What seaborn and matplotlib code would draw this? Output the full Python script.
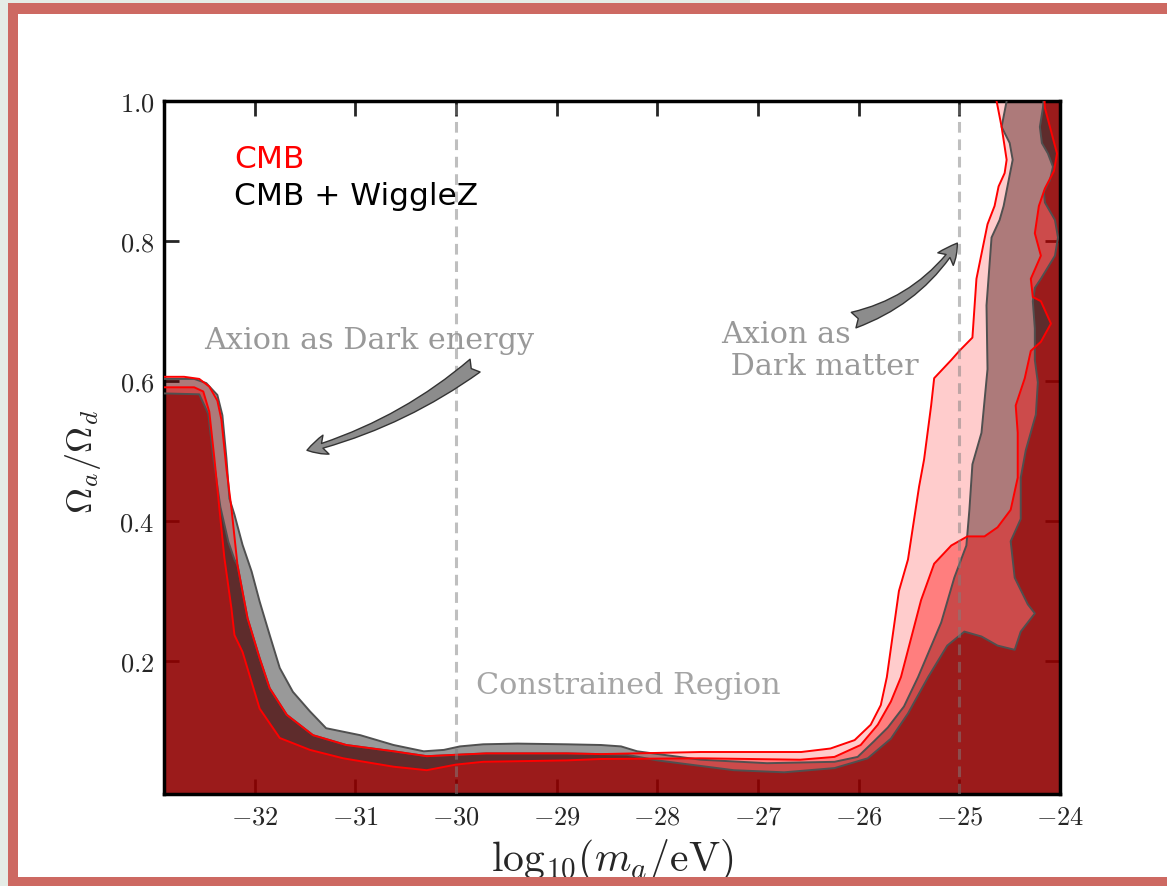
import numpy as np
import matplotlib
matplotlib.use("Agg")
import matplotlib.pyplot as plt
import seaborn as sns
from matplotlib.patches import Rectangle
from matplotlib.ticker import FuncFormatter

# boundary curves (x = log10(m_a/eV), y = Omega_a/Omega_d)
cmb_outer_x = [-33.1, -32.7, -32.55, -32.45, -32.37, -32.33, -32.28, -32.23, -32.17, -32.07,
               -31.95, -31.85, -31.68, -31.42, -31.09, -30.62, -30.29, -30.0, -29.7, -28.9,
               -28.56, -27.57, -26.57, -26.28, -26.04, -25.88, -25.78, -25.72, -25.60, -25.51,
               -25.40, -25.35, -25.28, -25.25, -25.08, -25.0, -24.87, -24.83, -24.72, -24.65,
               -24.61, -24.55, -24.53, -24.58, -24.63, -24.64]
cmb_outer_y = [0.606, 0.606, 0.603, 0.592, 0.572, 0.545, 0.475, 0.418, 0.337, 0.261,
               0.204, 0.161, 0.123, 0.094, 0.080, 0.071, 0.064, 0.066, 0.068, 0.068,
               0.067, 0.070, 0.070, 0.075, 0.087, 0.109, 0.137, 0.177, 0.300, 0.345,
               0.449, 0.488, 0.565, 0.604, 0.630, 0.643, 0.662, 0.746, 0.824, 0.850,
               0.878, 0.897, 0.916, 0.963, 1.0, 1.02]

cmb_inner_x = [-33.1, -32.6, -32.51, -32.45, -32.40, -32.35, -32.30, -32.23, -32.20, -32.12,
               -31.95, -31.75, -31.45, -31.12, -30.62, -30.29, -30.0, -29.73, -28.9, -28.56,
               -27.57, -26.58, -26.24, -25.98, -25.81, -25.68, -25.58, -25.38, -25.25, -25.08,
               -24.92, -24.75, -24.62, -24.49, -24.42, -24.42, -24.44, -24.35, -24.29, -24.19,
               -24.09, -24.19, -24.27, -24.29, -24.19, -24.25, -24.21, -24.15, -24.06, -24.03,
               -24.10, -24.15, -24.16]
cmb_inner_y = [0.591, 0.591, 0.585, 0.556, 0.490, 0.418, 0.347, 0.275, 0.237, 0.213,
               0.132, 0.090, 0.073, 0.061, 0.049, 0.044, 0.052, 0.056, 0.058, 0.060,
               0.061, 0.059, 0.063, 0.080, 0.109, 0.142, 0.177, 0.287, 0.339, 0.365,
               0.378, 0.378, 0.391, 0.416, 0.462, 0.526, 0.565, 0.604, 0.643, 0.656,
               0.682, 0.714, 0.720, 0.746, 0.779, 0.811, 0.850, 0.875, 0.900, 0.925,
               0.963, 0.990, 1.02]

wigglez_outer_x = [-33.1, -32.6, -32.48, -32.37, -32.32, -32.28, -32.25, -32.20, -32.12, -32.03,
                   -31.95, -31.85, -31.75, -31.62, -31.45, -31.29, -30.95, -30.62, -30.32, -30.12,
                   -29.96, -29.73, -29.39, -28.9, -28.56, -28.36, -28.2, -27.57, -26.91, -26.24,
                   -26.01, -25.85, -25.71, -25.55, -25.41, -25.18, -25.05, -24.93, -24.90, -24.87,
                   -24.78, -24.72, -24.73, -24.68, -24.60, -24.56, -24.47, -24.50, -24.58, -24.53,
                   -24.52]
wigglez_outer_y = [0.603, 0.603, 0.597, 0.580, 0.551, 0.490, 0.432, 0.409, 0.366, 0.328,
                   0.285, 0.237, 0.190, 0.156, 0.128, 0.104, 0.094, 0.080, 0.071, 0.073,
                   0.078, 0.081, 0.082, 0.081, 0.080, 0.078, 0.071, 0.059, 0.054, 0.056,
                   0.063, 0.085, 0.105, 0.135, 0.177, 0.255, 0.319, 0.365, 0.416, 0.481,
                   0.526, 0.617, 0.708, 0.805, 0.830, 0.850, 0.916, 0.940, 0.963, 1.0,
                   1.02]

wigglez_inner_x = [-33.1, -32.55, -32.46, -32.41, -32.34, -32.26, -32.20, -32.17, -32.07, -31.95,
                   -31.85, -31.68, -31.42, -31.09, -30.62, -30.29, -30.0, -29.7, -28.9, -28.56,
                   -28.3, -28.0, -27.24, -26.74, -26.24, -25.91, -25.68, -25.51, -25.31, -25.12,
                   -24.95, -24.78, -24.62, -24.45, -24.39, -24.25, -24.32, -24.45, -24.49, -24.39,
                   -24.39, -24.34, -24.24, -24.22, -24.25, -24.25, -24.27, -24.25, -24.19, -24.05,
                   -24.02, -24.05, -24.15, -24.16, -24.10, -24.07, -24.12, -24.18, -24.20, -24.17,
                   -24.15]
wigglez_inner_y = [0.583, 0.581, 0.553, 0.490, 0.420, 0.370, 0.345, 0.337, 0.261, 0.204,
                   0.161, 0.123, 0.094, 0.080, 0.071, 0.064, 0.066, 0.068, 0.068, 0.067,
                   0.066, 0.058, 0.044, 0.041, 0.047, 0.061, 0.089, 0.125, 0.177, 0.222,
                   0.242, 0.235, 0.222, 0.216, 0.242, 0.268, 0.281, 0.319, 0.371, 0.403,
                   0.462, 0.501, 0.552, 0.598, 0.630, 0.675, 0.714, 0.733, 0.746, 0.779,
                   0.805, 0.830, 0.855, 0.870, 0.887, 0.906, 0.925, 0.940, 0.963, 0.990,
                   1.02]

x_ticks = [-32, -31, -30, -29, -28, -27, -26, -25, -24]
y_ticks = [0.2, 0.4, 0.6, 0.8, 1.0]
marker_lines = [-30, -25]

W, H = 1167, 887
sns.set_style("ticks")
plt.rcParams['mathtext.fontset'] = 'cm'
plt.rcParams['font.family'] = ['DejaVu Sans']

fig = plt.figure(figsize=(W / 100, H / 100), dpi=100, facecolor='white')
ax = fig.add_axes([164 / W, 1 - 795 / H, (1060 - 164) / W, (795 - 102) / H])


def under_curve(xs, ys):
    # polygon of the area below / right of a boundary that ends at the top
    px = list(xs) + [-23.8, -23.8, -33.2]
    py = list(ys) + [ys[-1], -0.1, -0.1]
    return px, py


# gray layers first, then red ones on top (colours come from the overlaps)
for xs, ys, col, a in [(wigglez_outer_x, wigglez_outer_y, 'black', 0.40),
                       (wigglez_inner_x, wigglez_inner_y, 'black', 0.64),
                       (cmb_outer_x, cmb_outer_y, 'red', 0.20),
                       (cmb_inner_x, cmb_inner_y, 'red', 0.38)]:
    px, py = under_curve(xs, ys)
    ax.fill(px, py, color=col, alpha=a, lw=0, zorder=2)

for xs, ys in [(wigglez_outer_x, wigglez_outer_y), (wigglez_inner_x, wigglez_inner_y)]:
    sns.lineplot(x=xs, y=ys, sort=False, estimator=None, color='#505050', lw=1.4, ax=ax, zorder=4)
for xs, ys in [(cmb_outer_x, cmb_outer_y), (cmb_inner_x, cmb_inner_y)]:
    sns.lineplot(x=xs, y=ys, sort=False, estimator=None, color='red', lw=1.4, ax=ax, zorder=5)

for xv in marker_lines:
    ax.axvline(xv, color='gray', alpha=0.5, lw=2.2, ls=(0, (3.5, 2.2)), zorder=6)

ax.set_xlim(-32.9, -24.0)
ax.set_ylim(0.01, 1.0)
ax.set_xticks(x_ticks)
ax.set_yticks(y_ticks)
ax.xaxis.set_major_formatter(FuncFormatter(lambda v, p: r'$%d$' % v))
ax.yaxis.set_major_formatter(FuncFormatter(lambda v, p: r'$%.1f$' % v))
ax.tick_params(direction='in', length=11, width=2, top=True, right=True, pad=7)
ax.tick_params(axis='x', labelsize=19)
ax.tick_params(axis='y', labelsize=19)
for s in ax.spines.values():
    s.set_linewidth(2.5)
    s.set_color('black')

ax.set_xlabel(r'$\mathrm{log}_{10}(m_a/{\rm eV})$', fontsize=30)
ax.set_ylabel(r'$\Omega_a/\Omega_d$', fontsize=26)
ax.xaxis.set_label_coords(0.5, -0.06)
ax.yaxis.set_label_coords(-0.068, 0.48)

ax.text(-32.2, 0.918, 'CMB', color='red', fontsize=22.5, va='center', zorder=8)
ax.text(-32.2, 0.865, 'CMB + WiggleZ', color='black', fontsize=22.5, va='center', zorder=8)
ax.text(-32.5, 0.658, 'Axion as Dark energy', color='#999999', fontsize=21.8,
        family='DejaVu Serif', va='center', zorder=8)
ax.text(-27.37, 0.644, 'Axion as\n Dark matter', color='#999999', fontsize=21.8,
        family='DejaVu Serif', va='center', linespacing=1.2, zorder=8)
ax.text(-29.8, 0.165, 'Constrained Region', color='#a5a5a5', fontsize=21.8,
        family='DejaVu Serif', va='center', zorder=8)

arrow_kw = dict(arrowstyle='fancy,head_length=0.55,head_width=0.55,tail_width=0.45',
                mutation_scale=26, fc='#8c8c8c', ec='#333333', lw=1.0, shrinkA=0, shrinkB=0)
ax.annotate('', xy=(-31.48, 0.501), xytext=(-29.81, 0.622),
            arrowprops=dict(connectionstyle='arc3,rad=-0.1', **arrow_kw), zorder=8)
ax.annotate('', xy=(-25.02, 0.797), xytext=(-26.05, 0.687),
            arrowprops=dict(connectionstyle='arc3,rad=0.18', **arrow_kw), zorder=8)

# slide frame around the screenshot
pale = '#e5ece6'
frame = '#cd6962'
fig.add_artist(Rectangle((0, 0), 8 / W, 1, transform=fig.transFigure, color=pale, lw=0))
fig.add_artist(Rectangle((0, 1 - 4 / H), 750 / W, 4 / H, transform=fig.transFigure, color=pale, lw=0))
fig.add_artist(Rectangle((8 / W, 0), 10 / W, 1 - 4 / H, transform=fig.transFigure, color=frame, lw=0))
fig.add_artist(Rectangle((8 / W, 1 - 15 / H), 1 - 8 / W, 11 / H, transform=fig.transFigure, color=frame, lw=0))
fig.add_artist(Rectangle((8 / W, 0), 1 - 8 / W, 9 / H, transform=fig.transFigure, color=frame, lw=0))

fig.savefig('out.png', dpi=100, facecolor='white')
